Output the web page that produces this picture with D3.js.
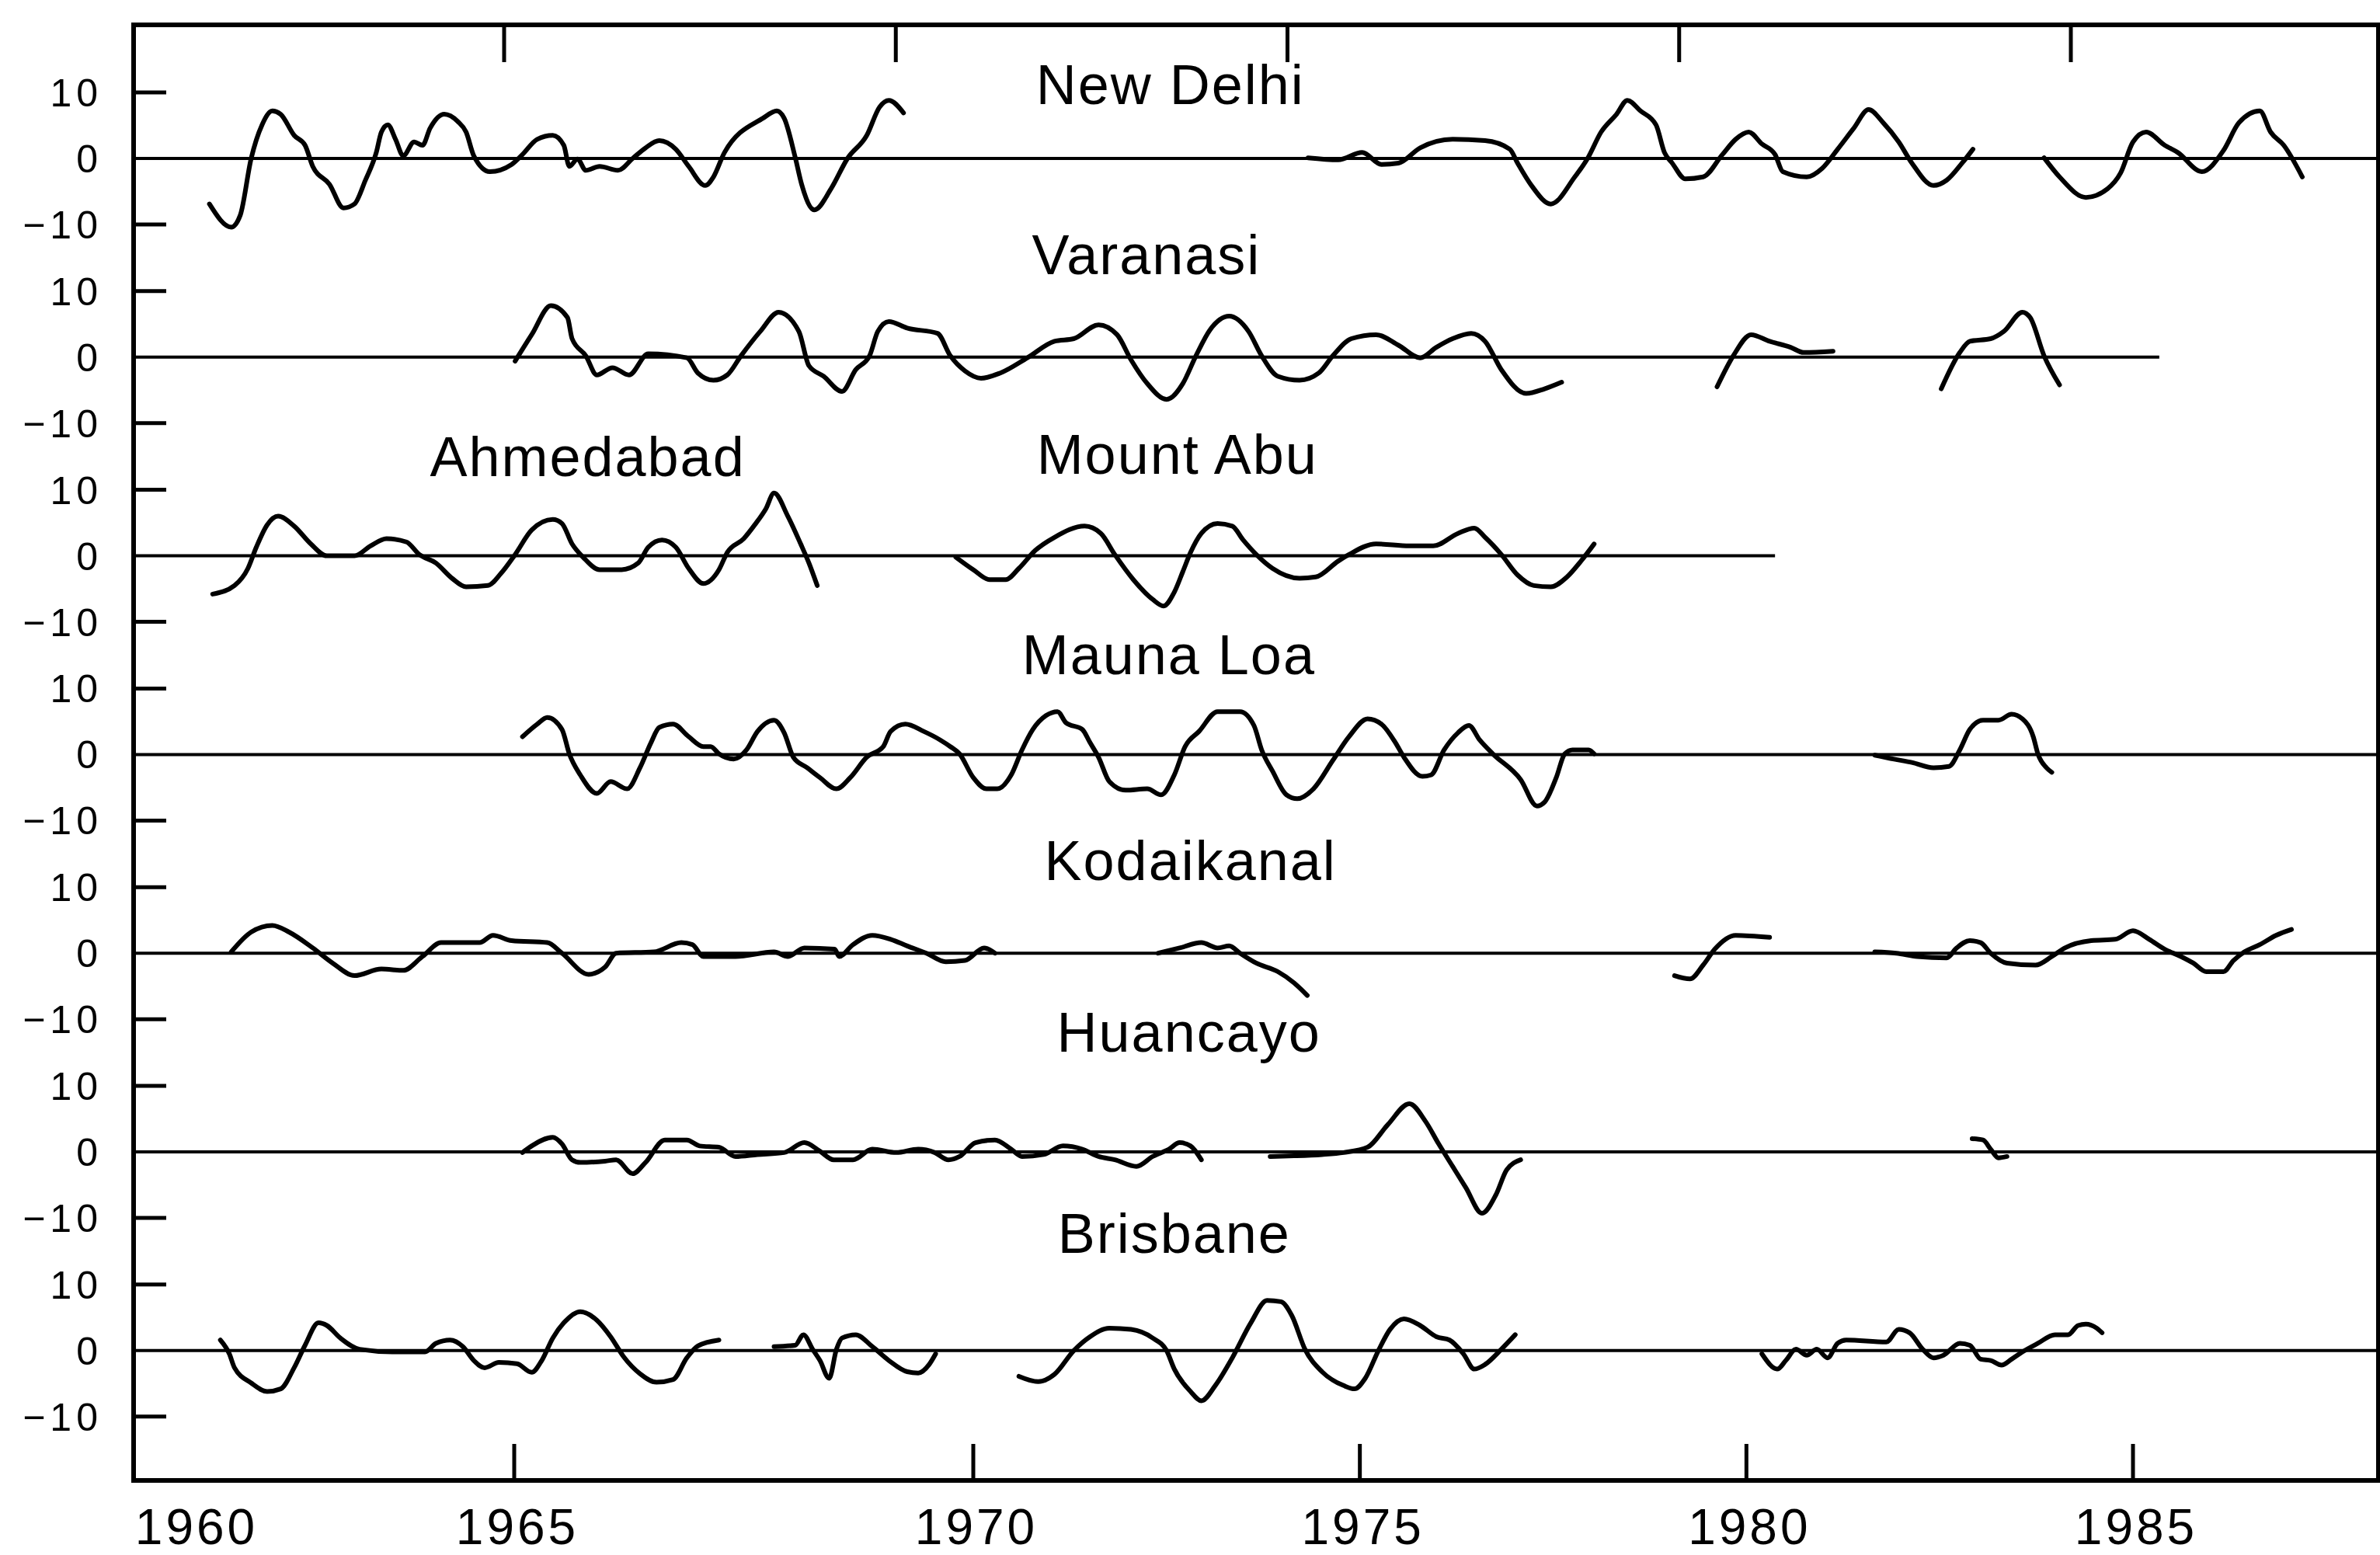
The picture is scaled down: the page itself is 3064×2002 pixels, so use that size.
<!DOCTYPE html>
<html>
<head>
<meta charset="utf-8">
<script src="https://cdn.jsdelivr.net/npm/d3@7"></script>
<style>
  body { margin: 0; background: #fff; }
  svg text { font-family: "Liberation Sans", Arial, sans-serif; fill: #000; }
</style>
</head>
<body>
<div id="chart"></div>
<script>
/*------------------------------------------*/
/*            Data (years, index value)     */
/*------------------------------------------*/

var newDelhi = [
  [[1960.25,-6.9],[1960.59,-10.4],[1960.73,-8.6],[1960.90,0],[1961.07,5.1],[1961.23,7.2],[1961.36,6.7],[1961.57,3.5],[1961.74,2.0],[1961.86,-1.2],[1962.12,-3.9],[1962.34,-7.5],[1962.51,-6.9],[1962.68,-3.3],[1962.85,0.9],[1962.93,4.0],[1963.03,5.1],[1963.15,2.9],[1963.27,0.4],[1963.44,2.5],[1963.57,2.0],[1963.69,4.6],[1963.91,6.7],[1964.12,5.6],[1964.25,4.0],[1964.37,0.4],[1964.62,-2.0],[1964.96,-0.9],[1965.09,0.6],[1965.25,2.9],[1965.42,3.5],[1965.54,2.0],[1965.60,-1.2],[1965.69,-0.1],[1965.78,-1.8],[1965.93,-1.2],[1966.13,-1.8],[1966.29,0],[1966.43,1.6],[1966.58,2.7],[1966.76,1.4],[1966.90,-1.2],[1967.08,-4.1],[1967.17,-2.8],[1967.29,0.9],[1967.71,6.1],[1967.86,7.2],[1967.94,6.1],[1968.06,0.2],[1968.13,-3.9],[1968.27,-7.8],[1968.45,-4.6],[1968.63,0],[1968.84,3.5],[1968.98,7.8],[1969.08,8.8],[1969.24,6.9]],
  [[1974.33,0.1],[1974.72,-0.2],[1975.03,0.9],[1975.28,-0.9],[1975.50,-0.7],[1975.78,1.6],[1976.20,2.9],[1976.62,2.7],[1976.94,1.4],[1977.04,-0.7],[1977.22,-4.1],[1977.47,-6.9],[1977.78,-2.8],[1977.95,0.1],[1978.12,4.0],[1978.32,6.7],[1978.46,8.8],[1978.63,7.2],[1978.83,5.1],[1978.94,0.9],[1979.04,-0.7],[1979.21,-3.1],[1979.44,-2.8],[1979.69,0.6],[1979.86,2.9],[1980.03,4.0],[1980.20,2.2],[1980.37,0.6],[1980.47,-2.0],[1980.78,-2.8],[1980.98,-1.5],[1981.18,1.4],[1981.39,4.6],[1981.58,7.4],[1981.77,5.4],[1981.97,2.5],[1982.14,-0.7],[1982.42,-4.1],[1982.59,-3.3],[1982.79,-0.7],[1982.93,1.4]],
  [[1983.85,0.1],[1984.05,-2.8],[1984.39,-5.9],[1984.67,-4.6],[1984.84,-2.2],[1985.00,2.5],[1985.17,4.0],[1985.41,2.0],[1985.58,0.9],[1985.89,-2.0],[1986.17,1.2],[1986.37,5.4],[1986.64,7.2],[1986.78,4.0],[1986.95,2.0],[1987.19,-2.8]]
];

var varanasi = [
  [[1965.01,-0.6],[1965.19,3.4],[1965.40,7.8],[1965.58,6.0],[1965.63,2.8],[1965.78,0.2],[1965.90,-2.7],[1966.07,-1.6],[1966.25,-2.7],[1966.46,0.5],[1966.88,-0.1],[1967.00,-2.4],[1967.17,-3.5],[1967.32,-2.7],[1967.47,0.2],[1967.68,3.9],[1967.88,6.8],[1968.10,3.9],[1968.21,-1.3],[1968.37,-2.9],[1968.57,-5.2],[1968.72,-1.9],[1968.87,0.2],[1968.96,3.9],[1969.08,5.4],[1969.28,4.4],[1969.61,3.6],[1969.75,0.2],[1969.91,-2.1],[1970.10,-3.2],[1970.35,-2.4],[1970.70,-0.1],[1971.05,2.4],[1971.30,2.8],[1971.62,4.9],[1971.86,3.4],[1972.04,-0.4],[1972.25,-4.0],[1972.50,-6.4],[1972.71,-4.0],[1972.88,0.2],[1973.06,4.1],[1973.31,6.2],[1973.56,3.9],[1973.73,0.2],[1973.94,-2.9],[1974.22,-3.5],[1974.47,-2.4],[1974.65,0.2],[1974.89,2.8],[1975.21,3.4],[1975.50,1.8],[1975.78,-0.1],[1975.99,1.5],[1976.20,2.8],[1976.44,3.6],[1976.62,2.4],[1976.83,-1.9],[1977.15,-5.5],[1977.39,-4.8],[1977.61,-3.8]],
  [[1979.62,-4.5],[1979.83,0.2],[1980.06,3.4],[1980.30,2.4],[1980.57,1.5],[1980.74,0.7],[1981.12,0.9]],
  [[1982.52,-4.8],[1982.76,0.7],[1982.89,2.4],[1983.16,2.8],[1983.33,3.9],[1983.57,6.8],[1983.67,6.0],[1983.85,0.2],[1984.05,-4.2]]
];

var ahmedabad = [
  [[1960.30,-5.8],[1960.64,-4.5],[1960.85,-1.9],[1960.98,1.3],[1961.15,4.7],[1961.32,6.0],[1961.57,4.5],[1961.83,1.8],[1962.08,0],[1962.51,0],[1962.76,1.5],[1963.01,2.6],[1963.32,2.1],[1963.52,0.2],[1963.78,-1.1],[1964.03,-3.4],[1964.25,-4.7],[1964.59,-4.5],[1964.79,-2.7],[1965.01,0.2],[1965.19,3.9],[1965.42,5.5],[1965.52,4.9],[1965.63,1.8],[1965.75,-0.2],[1965.93,-2.1],[1966.17,-2.1],[1966.35,-1.1],[1966.46,1.3],[1966.61,2.4],[1966.76,1.3],[1966.90,-1.9],[1967.06,-4.2],[1967.23,-2.1],[1967.32,0.5],[1967.50,2.6],[1967.62,4.7],[1967.74,7.1],[1967.83,9.5],[1967.98,6.0],[1968.12,1.8],[1968.21,-1.1],[1968.30,-4.5]]
];

var mountAbu = [
  [[1969.81,-0.2],[1970.00,-2.1],[1970.21,-3.6],[1970.42,-3.6],[1970.59,-1.9],[1970.80,0.8],[1971.05,2.8],[1971.44,4.5],[1971.65,3.4],[1971.83,0.2],[1972.07,-3.6],[1972.32,-6.6],[1972.46,-7.6],[1972.60,-5.5],[1972.71,-2.4],[1972.81,0.5],[1972.95,3.4],[1973.16,4.9],[1973.35,4.5],[1973.49,2.4],[1973.66,0.2],[1973.87,-1.9],[1974.22,-3.4],[1974.43,-3.2],[1974.72,-0.8],[1974.86,0.2],[1975.21,1.8],[1975.64,1.5],[1975.95,1.5],[1976.27,3.4],[1976.48,4.2],[1976.62,2.8],[1976.83,0.2],[1977.04,-2.9],[1977.25,-4.5],[1977.47,-4.7],[1977.68,-3.2],[1977.86,-0.8],[1978.03,1.8]]
];

var maunaLoa = [
  [[1965.09,2.7],[1965.25,4.6],[1965.36,5.6],[1965.52,3.8],[1965.60,0.1],[1965.72,-3.1],[1965.90,-5.9],[1966.05,-4.1],[1966.23,-5.2],[1966.37,-2.0],[1966.49,1.8],[1966.58,4.1],[1966.73,4.6],[1966.90,2.7],[1967.06,1.2],[1967.14,1.2],[1967.23,0.1],[1967.39,-0.7],[1967.53,0.7],[1967.65,3.5],[1967.83,5.2],[1967.94,3.3],[1968.04,-0.4],[1968.19,-2.0],[1968.33,-3.5],[1968.51,-5.2],[1968.66,-3.5],[1968.84,-0.4],[1969.02,1.2],[1969.10,3.5],[1969.26,4.6],[1969.46,3.5],[1969.64,2.2],[1969.75,1.2],[1969.85,0.1],[1970.00,-3.5],[1970.17,-5.2],[1970.31,-5.2],[1970.49,-3.1],[1970.63,0.7],[1970.77,3.8],[1970.94,5.9],[1971.09,6.5],[1971.20,4.8],[1971.41,3.8],[1971.51,1.8],[1971.62,-0.4],[1971.76,-4.1],[1971.97,-5.4],[1972.25,-5.2],[1972.43,-6.1],[1972.60,-3.1],[1972.74,1.2],[1972.92,3.5],[1973.16,6.5],[1973.45,6.5],[1973.63,4.4],[1973.73,0.7],[1973.87,-2.5],[1974.05,-6.1],[1974.19,-6.7],[1974.40,-5.2],[1974.65,-0.9],[1974.86,2.7],[1975.10,5.4],[1975.28,4.6],[1975.46,1.8],[1975.57,-0.4],[1975.81,-3.3],[1975.92,-3.1],[1976.09,0.7],[1976.27,3.3],[1976.41,4.4],[1976.55,2.2],[1976.72,0.1],[1977.08,-3.8],[1977.29,-7.8],[1977.39,-7.2],[1977.54,-3.5],[1977.65,0.1],[1977.75,0.7],[1977.96,0.7],[1978.03,0.1]],
  [[1981.66,-0.1],[1981.91,-0.7],[1982.14,-1.2],[1982.42,-2.0],[1982.62,-1.8],[1982.76,0.7],[1982.89,3.8],[1983.06,5.2],[1983.26,5.2],[1983.43,6.1],[1983.57,5.4],[1983.71,2.7],[1983.77,0.1],[1983.88,-2.0],[1983.95,-2.7]]
];

var kodaikanal = [
  [[1960.59,0.2],[1960.90,3.2],[1961.23,4.2],[1961.49,3.2],[1961.86,0.8],[1962.17,-1.5],[1962.51,-3.4],[1962.93,-2.4],[1963.27,-2.6],[1963.57,-0.5],[1963.86,1.6],[1964.46,1.6],[1964.67,2.7],[1964.96,1.9],[1965.36,1.6],[1965.52,0],[1965.81,-3.2],[1965.99,-2.1],[1966.11,0],[1966.52,0.2],[1966.82,1.6],[1966.94,1.3],[1967.06,-0.5],[1967.41,-0.5],[1967.83,0.2],[1967.98,-0.5],[1968.16,0.8],[1968.49,0.6],[1968.54,-0.5],[1968.69,1.3],[1968.90,2.7],[1969.10,2.1],[1969.28,1.1],[1969.49,0],[1969.70,-1.3],[1969.91,-1.1],[1970.14,0.8],[1970.28,0]],
  [[1972.39,0],[1972.67,0.8],[1972.95,1.6],[1973.16,0.8],[1973.31,1.1],[1973.45,0],[1973.66,-1.5],[1973.94,-2.8],[1974.15,-4.5],[1974.32,-6.4]],
  [[1979.07,-3.4],[1979.27,-3.9],[1979.44,-1.8],[1979.59,0.6],[1979.86,2.7],[1980.30,2.4]],
  [[1981.66,0.2],[1981.94,0],[1982.21,-0.5],[1982.59,-0.7],[1982.72,0.8],[1982.89,1.9],[1983.03,1.6],[1983.16,0],[1983.37,-1.5],[1983.74,-1.8],[1983.95,-0.5],[1984.12,0.8],[1984.46,1.9],[1984.77,2.1],[1985.00,3.4],[1985.21,2.1],[1985.41,0.6],[1985.62,-0.5],[1985.78,-1.5],[1985.95,-2.8],[1986.17,-2.8],[1986.30,-1.1],[1986.44,0.2],[1986.64,1.3],[1986.85,2.7],[1987.05,3.6]]
];

var huancayo = [
  [[1965.09,-0.1],[1965.19,0.9],[1965.42,2.2],[1965.52,1.2],[1965.63,-1.2],[1965.72,-1.6],[1965.99,-1.4],[1966.11,-1.2],[1966.29,-3.3],[1966.43,-1.6],[1966.64,1.8],[1966.88,1.8],[1967.02,0.9],[1967.23,0.7],[1967.41,-0.7],[1967.65,-0.4],[1967.94,-0.1],[1968.16,1.4],[1968.33,0.1],[1968.48,-1.2],[1968.69,-1.2],[1968.90,0.4],[1969.16,-0.1],[1969.40,0.4],[1969.58,-0.1],[1969.73,-1.2],[1969.85,-0.7],[1970.03,1.4],[1970.28,1.8],[1970.49,0.4],[1970.63,-0.7],[1970.91,-0.4],[1971.16,0.9],[1971.41,0.4],[1971.62,-0.7],[1971.83,-1.2],[1972.11,-2.2],[1972.32,-0.7],[1972.53,0.4],[1972.67,1.4],[1972.81,0.9],[1972.95,-1.2]],
  [[1973.84,-0.7],[1974.15,-0.6],[1974.51,-0.4],[1974.79,-0.1],[1975.10,0.7],[1975.36,4.1],[1975.64,7.3],[1975.85,4.6],[1976.02,1.2],[1976.20,-2.2],[1976.37,-5.4],[1976.58,-9.3],[1976.76,-6.5],[1976.90,-2.7],[1977.08,-1.2]],
  [[1982.92,2.0],[1983.06,1.8],[1983.16,0.4],[1983.26,-0.9],[1983.37,-0.7]]
];

var brisbane = [
  [[1960.42,1.6],[1960.56,-0.5],[1960.64,-2.6],[1960.90,-4.9],[1961.15,-6.2],[1961.36,-5.8],[1961.57,-2.6],[1961.74,0.8],[1961.95,4.2],[1962.08,3.8],[1962.29,1.9],[1962.59,0.2],[1963.10,-0.2],[1963.61,-0.2],[1963.78,1.1],[1964.00,1.6],[1964.20,0.6],[1964.37,-1.5],[1964.54,-2.6],[1964.76,-1.8],[1965.03,-2.0],[1965.19,-3.3],[1965.30,-1.5],[1965.42,1.9],[1965.54,4.2],[1965.72,5.9],[1965.90,4.6],[1966.05,2.1],[1966.19,-0.9],[1966.37,-3.5],[1966.55,-4.8],[1966.73,-4.4],[1966.88,-1.1],[1967.00,0.7],[1967.23,1.6]],
  [[1967.83,0.6],[1968.06,0.8],[1968.15,2.4],[1968.25,0.2],[1968.33,-1.5],[1968.43,-4.2],[1968.51,0.2],[1968.57,1.9],[1968.72,2.4],[1968.90,0.6],[1969.08,-1.5],[1969.28,-3.2],[1969.40,-3.4],[1969.52,-2.1],[1969.59,-0.5]],
  [[1970.59,-3.9],[1970.84,-4.7],[1971.05,-3.6],[1971.30,0],[1971.51,2.1],[1971.76,3.4],[1972.04,3.2],[1972.32,1.9],[1972.50,0],[1972.60,-2.8],[1972.81,-6.2],[1972.95,-7.6],[1973.13,-5.3],[1973.35,-1.1],[1973.59,4.2],[1973.80,7.6],[1973.98,7.4],[1974.12,5.3],[1974.29,0.2],[1974.51,-3.2],[1974.79,-5.3],[1974.93,-5.8],[1975.07,-4.2],[1975.24,0],[1975.39,3.2],[1975.57,4.8],[1975.78,3.8],[1975.99,2.1],[1976.16,1.6],[1976.34,-0.5],[1976.48,-2.8],[1976.62,-2.1],[1976.83,0.2],[1977.01,2.4]],
  [[1980.20,-0.5],[1980.40,-2.8],[1980.51,-1.5],[1980.64,0.2],[1980.78,-0.7],[1980.91,0.2],[1981.05,-1.1],[1981.18,1.1],[1981.29,1.6],[1981.81,1.3],[1981.97,3.2],[1982.11,2.7],[1982.28,0.2],[1982.42,-1.1],[1982.55,-0.7],[1982.76,1.1],[1982.89,0.8],[1983.03,-1.3],[1983.16,-1.5],[1983.30,-2.2],[1983.43,-1.3],[1983.57,-0.2],[1983.77,1.1],[1983.99,2.4],[1984.16,2.4],[1984.29,3.8],[1984.39,4.0],[1984.53,3.4],[1984.60,2.7]]
];

// station name, series, panel row
var stationNames = ["New Delhi", "Varanasi", "Ahmedabad", "Mount Abu", "Mauna Loa", "Kodaikanal", "Huancayo", "Brisbane"];
var stationSeries = [newDelhi, varanasi, ahmedabad, mountAbu, maunaLoa, kodaikanal, huancayo, brisbane];
var stationPanel = [0, 1, 2, 2, 3, 4, 5, 6];

// where the zero line of each panel stops (null = right frame)
var zeroLineEnd = [null, 1985.34, 1980.37, null, null, null, null];

var yearTicks = [1965, 1970, 1975, 1980, 1985],
    yearLabels = [1960, 1965, 1970, 1975, 1980, 1985],
    valueTicks = [10, 0, -10];

/*------------------------------------------*/
/*            Layout                        */
/*------------------------------------------*/

var width = 3064, height = 2002;
var frame = {left: 172, right: 3062, top: 32, bottom: 1906};

var panelCount = 7,
    firstZero = 204,
    panelStep = 255.8,
    halfRange = 85;

// label anchor for each station, in [year, value] of its panel
var labelAt = [[1972.55, 8.2], [1972.24, 12.6], [1965.80, 12.1], [1972.64, 12.4],
               [1972.53, 12.2], [1972.81, 11.1], [1972.79, 15.2], [1972.60, 14.8]];

/*------------------------------------------*/
/*            Scales                        */
/*------------------------------------------*/

// bottom axis of the original is not evenly spaced between 1960 and 1970
var x = d3.scaleLinear()
    .domain([1960, 1965, 1970, 1985])
    .range([249, 662, 1253, 2746]);

// unlabelled ticks along the top frame
var xTop = d3.scaleLinear()
    .domain([1965, 1985])
    .range([649, 2666]);

function yPanel(i) {
  var zero = firstZero + i * panelStep;
  return d3.scaleLinear().domain([-10, 10]).range([zero + halfRange, zero - halfRange]);
}

/*------------------------------------------*/
/*            SVG                           */
/*------------------------------------------*/

var svg = d3.select("#chart").append("svg")
    .attr("width", width)
    .attr("height", height);

svg.append("rect")
    .attr("width", width).attr("height", height)
    .attr("fill", "#fff");

// frame
svg.append("rect")
    .attr("x", frame.left).attr("y", frame.top)
    .attr("width", frame.right - frame.left)
    .attr("height", frame.bottom - frame.top)
    .attr("fill", "none")
    .attr("stroke", "#000")
    .attr("stroke-width", 6);

/*------------------------------------------*/
/*            X ticks                       */
/*------------------------------------------*/

svg.selectAll("line.btick")
    .data(yearTicks)
    .enter().append("line")
    .attr("class", "btick")
    .attr("x1", function(d) { return x(d); })
    .attr("x2", function(d) { return x(d); })
    .attr("y1", frame.bottom)
    .attr("y2", frame.bottom - 47)
    .attr("stroke", "#000")
    .attr("stroke-width", 5);

svg.selectAll("line.ttick")
    .data(yearTicks)
    .enter().append("line")
    .attr("class", "ttick")
    .attr("x1", function(d) { return xTop(d); })
    .attr("x2", function(d) { return xTop(d); })
    .attr("y1", frame.top)
    .attr("y2", frame.top + 48)
    .attr("stroke", "#000")
    .attr("stroke-width", 5);

svg.selectAll("text.year")
    .data(yearLabels)
    .enter().append("text")
    .attr("class", "year")
    .attr("x", function(d) { return x(d) + 4; })
    .attr("y", 1988)
    .attr("text-anchor", "middle")
    .attr("font-size", "64px")
    .attr("letter-spacing", "4px")
    .text(function(d) { return d; });

/*------------------------------------------*/
/*            Panels                        */
/*------------------------------------------*/

var line = d3.line()
    .x(function(d) { return x(d[0]); })
    .curve(d3.curveMonotoneX);

d3.range(panelCount).forEach(function(i) {
  var y = yPanel(i);
  var g = svg.append("g").attr("class", "panel");

  // zero reference line
  var endX = zeroLineEnd[i] === null ? frame.right : x(zeroLineEnd[i]);
  g.append("line")
      .attr("x1", frame.left).attr("x2", endX)
      .attr("y1", y(0)).attr("y2", y(0))
      .attr("stroke", "#000")
      .attr("stroke-width", 4);

  // inward ticks at +-10
  g.selectAll("line.vtick")
      .data([10, -10])
      .enter().append("line")
      .attr("class", "vtick")
      .attr("x1", frame.left).attr("x2", frame.left + 42)
      .attr("y1", function(d) { return y(d); })
      .attr("y2", function(d) { return y(d); })
      .attr("stroke", "#000")
      .attr("stroke-width", 5);

  g.selectAll("text.vlab")
      .data(valueTicks)
      .enter().append("text")
      .attr("class", "vlab")
      .attr("x", 132)
      .attr("y", function(d) { return y(d) + 18; })
      .attr("text-anchor", "end")
      .attr("font-size", "50px")
      .attr("letter-spacing", "6px")
      .text(function(d) { return d < 0 ? "\u2212" + Math.abs(d) : d; });
});

/*------------------------------------------*/
/*            Station curves & names        */
/*------------------------------------------*/

stationSeries.forEach(function(series, s) {
  var y = yPanel(stationPanel[s]);
  line.y(function(d) { return y(d[1]); });

  svg.append("g")
      .attr("class", "station")
      .selectAll("path")
      .data(series)
      .enter().append("path")
      .attr("d", line)
      .attr("fill", "none")
      .attr("stroke", "#000")
      .attr("stroke-width", 6)
      .attr("stroke-linejoin", "round")
      .attr("stroke-linecap", "round");

  svg.append("text")
      .attr("x", x(labelAt[s][0]))
      .attr("y", y(labelAt[s][1]))
      .attr("text-anchor", "middle")
      .attr("font-size", "72px")
      .attr("letter-spacing", "2px")
      .text(stationNames[s]);
});
</script>
</body>
</html>
